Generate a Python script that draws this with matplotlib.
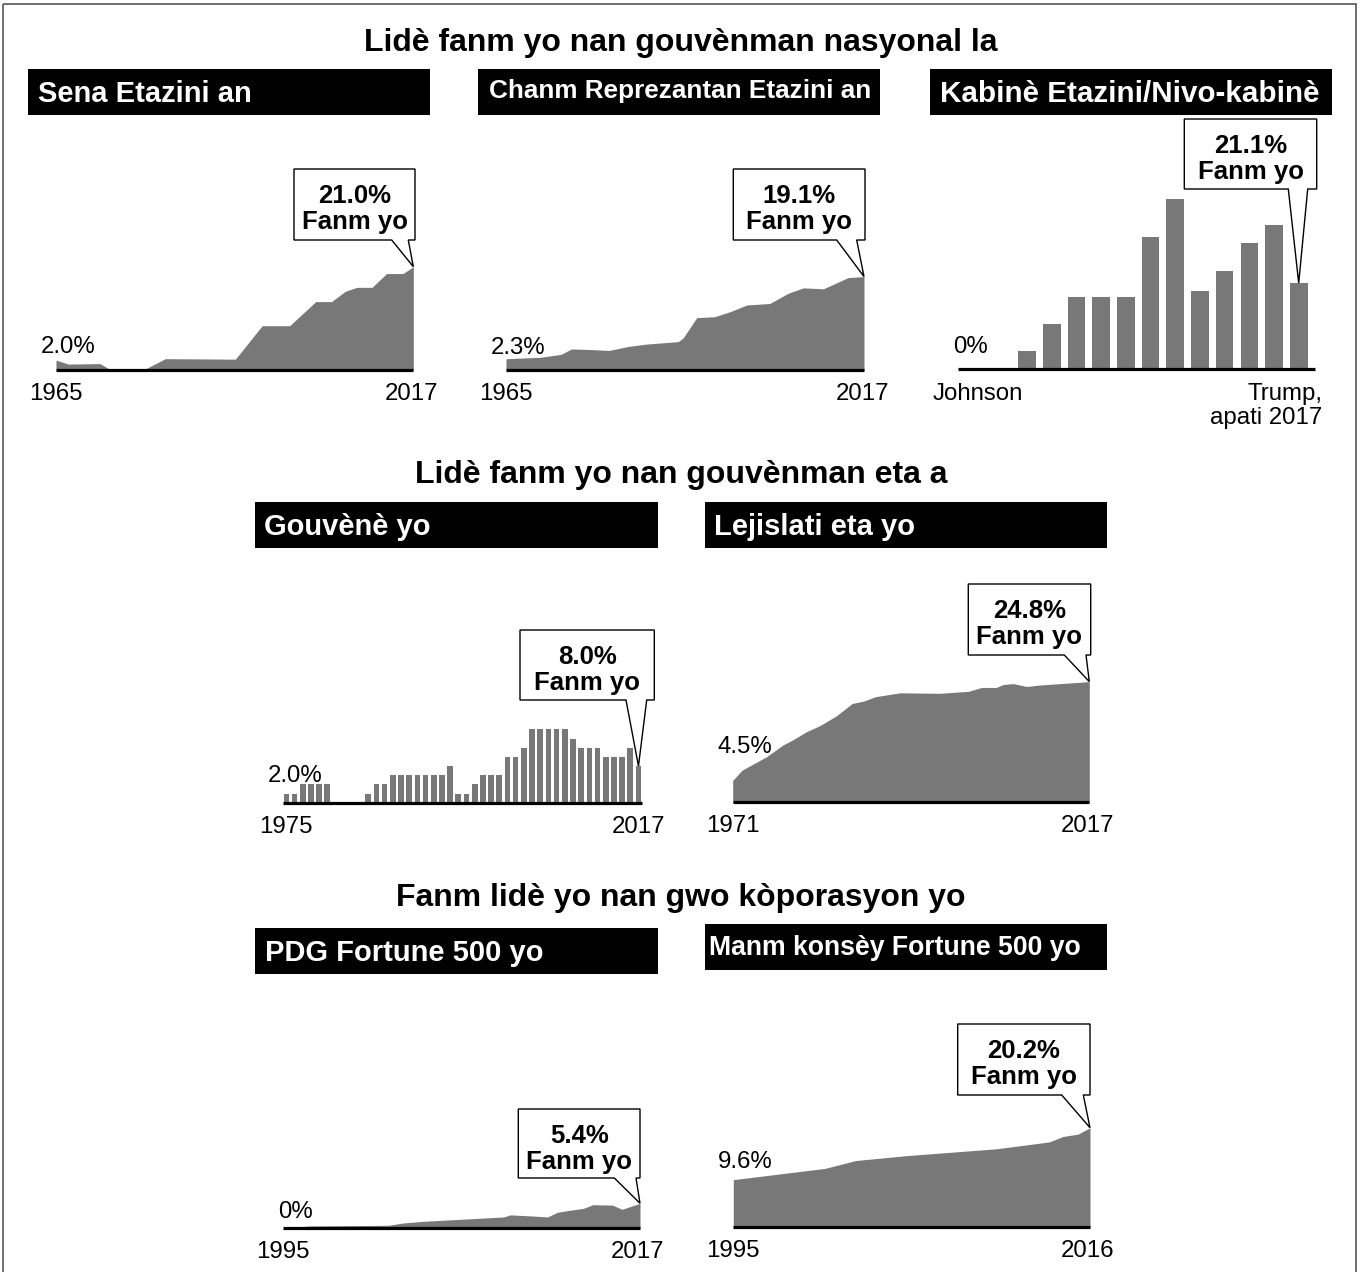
import matplotlib
matplotlib.use("Agg")
import matplotlib.pyplot as plt
from matplotlib.patches import Polygon, Rectangle
from matplotlib.transforms import offset_copy
import numpy as np

plt.rcParams['font.family'] = ['Liberation Sans', 'DejaVu Sans']

# ---- data (percent women) ----
senate_years = [1965, 1966.8, 1971.4, 1973, 1977.7, 1980.9, 1991.1, 1995, 1999,
                2002.8, 2005.1, 2007.1, 2008.8, 2011, 2013.1, 2015.5, 2017]
senate_pct = [2.0, 1.2, 1.3, 0.0, 0.0, 2.3, 2.2, 9.0, 9.0,
              13.9, 13.9, 16.0, 16.8, 16.8, 19.6, 19.6, 21.0]

house_years = [1965, 1970, 1973, 1974.5, 1977, 1980, 1982.7, 1985.4, 1990, 1990.7,
               1992.7, 1995.3, 1997.5, 2000, 2003.3, 2006, 2008.2, 2011.1, 2014.7, 2017]
house_pct = [2.3, 2.6, 3.2, 4.3, 4.2, 4.0, 4.8, 5.3, 5.8, 6.5,
             10.7, 10.9, 11.9, 13.3, 13.6, 15.7, 16.8, 16.6, 18.9, 19.1]

cabinet_pct = [0, 0, 4.5, 11.1, 17.6, 17.6, 17.6, 32.4, 41.6, 19.2, 24.0, 30.9, 35.3, 21.1]

governor_pct = [2, 2, 4, 4, 4, 4, 0, 0, 0, 0, 2, 4, 4, 6, 6, 6, 6, 6, 6, 6, 8, 2, 2, 4,
                6, 6, 6, 10, 10, 12, 16, 16, 16, 16, 16, 14, 12, 12, 12, 10, 10, 10, 12, 8]

state_years = [1971, 1972.2, 1975.4, 1977.5, 1978.6, 1980.5, 1982.3, 1984.4, 1986.4, 1987.9,
               1989.4, 1992.6, 1997.7, 2001.4, 2003.1, 2005, 2005.9, 2007.2, 2008.9, 2010.6, 2017]
state_pct = [4.5, 6.6, 9.4, 11.8, 12.7, 14.5, 15.8, 17.8, 20.3, 20.8,
             21.7, 22.5, 22.4, 22.8, 23.6, 23.6, 24.2, 24.4, 23.8, 24.1, 24.8]

ceo_years = [1995, 1996.6, 2001.5, 2002.4, 2003.6, 2008.6, 2009, 2010.4, 2011.3, 2011.9,
             2012.5, 2013.5, 2014.1, 2015.3, 2015.9, 2016.4, 2017]
ceo_pct = [0.0, 0.5, 0.65, 1.15, 1.5, 2.45, 2.9, 2.65, 2.45, 3.45,
           3.8, 4.3, 5.1, 5.0, 4.1, 4.7, 5.4]

board_years = [1995, 2000.4, 2002.2, 2005.2, 2010.5, 2013.6, 2014.4, 2015.3, 2016]
board_pct = [9.6, 11.9, 13.5, 14.5, 15.9, 17.3, 18.4, 18.9, 20.2]

titles = ["Lidè fanm yo nan gouvènman nasyonal la",
          "Lidè fanm yo nan gouvènman eta a",
          "Fanm lidè yo nan gwo kòporasyon yo"]
headers = ["Sena Etazini an", "Chanm Reprezantan Etazini an", "Kabinè Etazini/Nivo-kabinè",
           "Gouvènè yo", "Lejislati eta yo", "PDG Fortune 500 yo", "Manm konsèy Fortune 500 yo"]

W, H = 1360, 1272
GRAY = '#787878'
fig = plt.figure(figsize=(W / 100, H / 100), dpi=100)

over = fig.add_axes([0, 0, 1, 1], zorder=5)
over.set_xlim(0, W)
over.set_ylim(H, 0)
over.axis('off')
over.patch.set_alpha(0)

# outer frame
over.add_patch(Rectangle((3, 4), 1353, 1290, fc='none', ec='#555555', lw=1.2, clip_on=False))


def panel(x0, x1, base, ppu, xlim, ymax):
    top = base - ymax * ppu
    ax = fig.add_axes([x0 / W, 1 - base / H, (x1 - x0) / W, (base - top) / H])
    ax.set_xlim(*xlim)
    ax.set_ylim(0, ymax)
    ax.axis('off')
    ax.plot(xlim, [0, 0], color='black', lw=2.3, clip_on=False, solid_capstyle='butt', zorder=3)
    return ax


def callout(ax, x, y, box, notch, lines):
    bx0, by0, bx1, by1 = box
    tip = over.transData.inverted().transform(ax.transData.transform((x, y)))
    pts = [(bx0, by0), (bx1, by0), (bx1, by1), (notch[1], by1), tuple(tip), (notch[0], by1), (bx0, by1)]
    over.add_patch(Polygon(pts, closed=True, fc='white', ec='black', lw=1.0, zorder=6))
    cx = (bx0 + bx1) / 2
    over.text(cx, by0 + 34, lines[0], ha='center', va='baseline', fontsize=18.5, fontweight='bold', zorder=7)
    over.text(cx, by0 + 60, lines[1], ha='center', va='baseline', fontsize=18.5, fontweight='bold', zorder=7)


def end_labels(ax, left, right, start_label, start_dy, dy=30):
    x0, x1 = ax.get_xlim()
    t = offset_copy(ax.transData, fig=fig, x=0, y=-dy, units='dots')
    if left:
        ax.text(x0, 0, left, transform=t, ha='center', va='baseline', fontsize=17.3)
    if right:
        t2 = offset_copy(ax.transData, fig=fig, x=-2, y=-dy, units='dots')
        ax.text(x1, 0, right, transform=t2, ha='center', va='baseline', fontsize=17.3)
    t3 = offset_copy(ax.transData, fig=fig, x=12, y=start_dy, units='dots')
    ax.text(x0, 0, start_label, transform=t3, ha='center', va='baseline', fontsize=17.3)


# section titles
for txt, yb in zip(titles, [51, 483, 906]):
    over.text(681, yb, txt, ha='center', va='baseline', fontsize=23, fontweight='bold')

# header bars: (x0, x1, y0, y1, text x inset, text baseline, fontsize)
hdr_boxes = [(28, 430, 69, 115, 10, 102, 21), (478, 880, 69, 115, 11, 98, 18.8),
             (930, 1332, 69, 115, 10, 102, 21.3),
             (255, 658, 502, 548, 9, 535, 21), (705, 1107, 502, 548, 9, 535, 21),
             (255, 658, 928, 974, 10, 961, 21), (705, 1107, 924, 970, 4, 955, 19.2)]
for txt, (x0, x1, y0, y1, dx, yb, fs) in zip(headers, hdr_boxes):
    over.add_patch(Rectangle((x0, y0), x1 - x0, y1 - y0, fc='black', ec='none'))
    over.text(x0 + dx, yb, txt, ha='left', va='baseline', color='white', fontsize=fs, fontweight='bold')

# Senate
ax = panel(56, 413.3, 370, 4.92, (1965, 2017), 22)
ax.fill_between(senate_years, senate_pct, 0, color=GRAY, lw=0)
end_labels(ax, '1965', '2017', '2.0%', 17)
callout(ax, senate_years[-1], senate_pct[-1], (294, 169, 415, 240), (391.7, 408.3), ['21.0%', 'Fanm yo'])

# House
ax = panel(506, 864, 370, 4.89, (1965, 2017), 22)
ax.fill_between(house_years, house_pct, 0, color=GRAY, lw=0)
end_labels(ax, '1965', '2017', '2.3%', 16)
callout(ax, house_years[-1], house_pct[-1], (733.3, 169, 865, 240), (836.7, 856.7), ['19.1%', 'Fanm yo'])

# Cabinet
cab_x = np.arange(len(cabinet_pct))
ax = panel(958.3, 1315, 369.3, 4.09, (-0.79, 13.66), 43)
ax.bar(cab_x, cabinet_pct, width=0.715, color=GRAY, lw=0)
end_labels(ax, None, None, '0%', 16)
over.text(977.7, 400, 'Johnson', ha='center', va='baseline', fontsize=17.3)
over.text(1322, 400, 'Trump,', ha='right', va='baseline', fontsize=17.3)
over.text(1322, 424, 'apati 2017', ha='right', va='baseline', fontsize=17.3)
callout(ax, cab_x[-1], cabinet_pct[-1], (1184.3, 119, 1316.7, 189), (1288.3, 1307.7), ['21.1%', 'Fanm yo'])

# Governors
gov_x = np.arange(len(governor_pct))
ax = panel(283.3, 641.5, 802.7, 4.585, (-0.37, 43.37), 17)
ax.bar(gov_x, governor_pct, width=0.69, color=GRAY, lw=0)
end_labels(ax, None, None, '2.0%', 21)
t = offset_copy(ax.transData, fig=fig, x=0, y=-30, units='dots')
ax.text(gov_x[0], 0, '1975', transform=t, ha='center', va='baseline', fontsize=17.3)
ax.text(gov_x[-1], 0, '2017', transform=t, ha='center', va='baseline', fontsize=17.3)
callout(ax, gov_x[-1], governor_pct[-1], (520, 630, 654.3, 700), (626, 646.7), ['8.0%', 'Fanm yo'])

# State legislatures
ax = panel(732.7, 1089.3, 802.3, 4.866, (1971, 2017), 25.5)
ax.fill_between(state_years, state_pct, 0, color=GRAY, lw=0)
end_labels(ax, '1971', '2017', '4.5%', 49)
callout(ax, state_years[-1], state_pct[-1], (968.3, 584, 1090.7, 655), (1064.3, 1086), ['24.8%', 'Fanm yo'])

# Fortune 500 CEOs
ax = panel(283.3, 640, 1228.3, 4.63, (1995, 2017), 6)
ax.fill_between(ceo_years, ceo_pct, 0, color=GRAY, lw=0)
end_labels(ax, '1995', '2017', '0%', 10)
callout(ax, ceo_years[-1], ceo_pct[-1], (518.3, 1109, 640, 1178), (614.3, 636), ['5.4%', 'Fanm yo'])

# Fortune 500 boards
ax = panel(733.3, 1090, 1226.7, 4.90, (1995, 2016), 21)
ax.fill_between(board_years, board_pct, 0, color=GRAY, lw=0)
end_labels(ax, '1995', '2016', '9.6%', 59)
callout(ax, board_years[-1], board_pct[-1], (957.7, 1024, 1090, 1095), (1061.7, 1083.3), ['20.2%', 'Fanm yo'])

fig.savefig('out.png', dpi=100)
